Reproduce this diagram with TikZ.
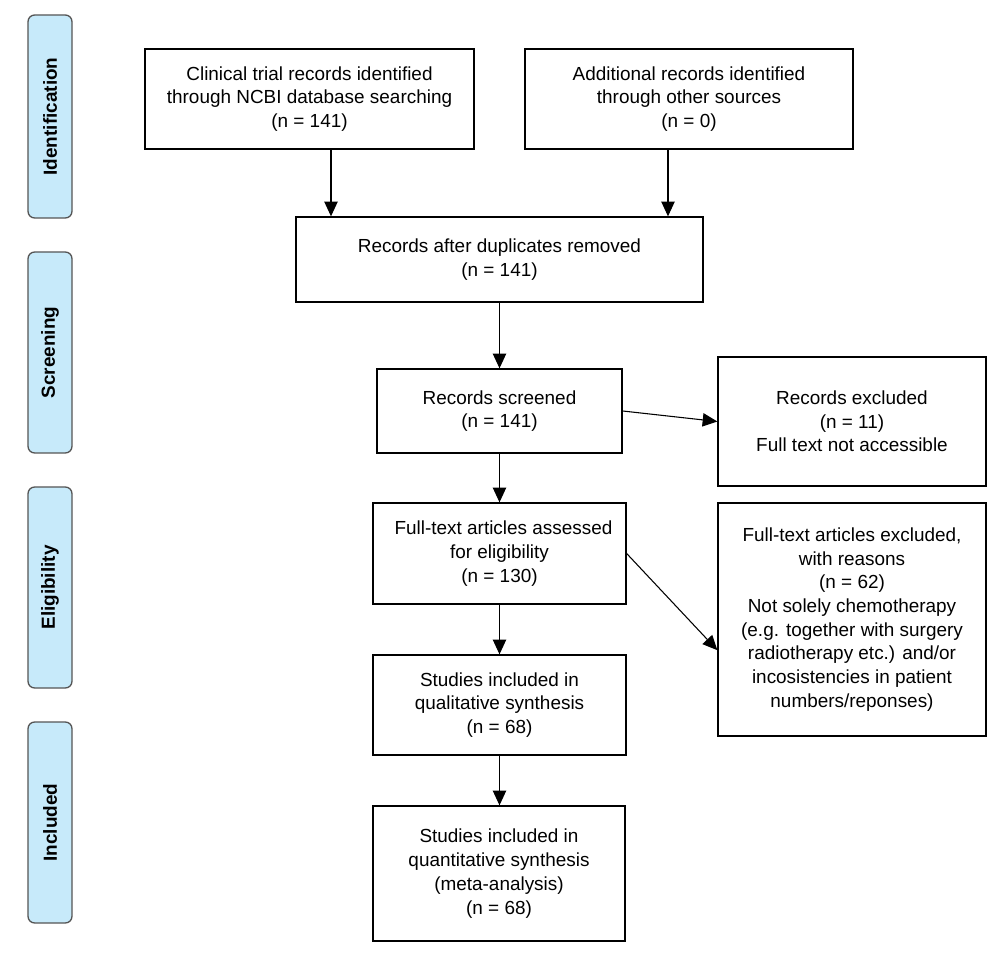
\documentclass[tikz,border=0pt]{standalone}
\usepackage{fontspec}
\setmainfont{Liberation Sans}
\usetikzlibrary{arrows.meta}
\definecolor{sidefill}{RGB}{199,234,250}
\definecolor{sideedge}{RGB}{85,85,85}
\begin{document}
\begin{tikzpicture}[x=0.75pt,y=-0.75pt,
  box/.style={draw=black, line width=1pt, fill=white, align=center, inner sep=2pt,
    font=\fontsize{14.2}{17.8}\selectfont},
  side/.style={draw=sideedge, line width=1pt, fill=sidefill, rounded corners=5pt,
    minimum width=33pt, minimum height=151pt, inner sep=0pt},
  sidetext/.style={rotate=90, font=\fontsize{14.2}{17}\selectfont\bfseries},
  arr/.style={draw=black, line width=0.8pt, -{Triangle[length=11pt,width=10pt]}}]
\useasboundingbox (0,0) rectangle (1000,955);
% phase labels
\node[side, minimum height=152.25pt] (s1) at (50,116.5) {};
\node[sidetext] (s1t) at (s1.center) {Identification};
\node[side, minimum height=150.75pt] (s2) at (50,352.5) {};
\node[sidetext] (s2t) at (s2.center) {Screening};
\node[side, minimum height=150.75pt] (s3) at (50,587.5) {};
\node[sidetext] (s3t) at (s3.center) {Eligibility};
\node[side, minimum height=150.75pt] (s4) at (50,822.5) {};
\node[sidetext] (s4t) at (s4.center) {Included};
% boxes
\node[box, minimum width=246.75pt, minimum height=75pt] (b1) at (309.5,99)
  {Clinical trial records identified\\through NCBI database searching\\(n = 141)};
\node[box, minimum width=246pt, minimum height=75pt] (b2) at (689,99)
  {Additional records identified\\through other sources\\(n = 0)};
\node[box, minimum width=305.25pt, minimum height=63.75pt] (b3) at (499.5,259.5)
  {Records after duplicates removed\\(n = 141)};
\node[box, minimum width=183.75pt, minimum height=63pt] (b4) at (499.5,411)
  {Records screened\\(n = 141)};
\node[box, minimum width=201pt, minimum height=96.75pt] (b5) at (852,421.5)
  {Records excluded\\(n = 11)\\Full text not accessible};
\node[box, minimum width=189.75pt, minimum height=75.75pt] (b6) at (499.5,553.5)
  {\hspace*{6pt}Full-text articles assessed\\for eligibility\\(n = 130)};
\node[box, minimum width=201pt, minimum height=174.75pt] (b7) at (852,619.5)
  {Full-text articles excluded,\\with reasons\\(n = 62)\\Not solely chemotherapy\\(e.g. together with surgery\\radiotherapy etc.) and/or\\incosistencies in patient\\numbers/reponses)};
\node[box, minimum width=189.75pt, minimum height=75pt] (b8) at (499.5,705)
  {Studies included in\\qualitative synthesis\\(n = 68)};
\node[box, minimum width=189pt, minimum height=101.25pt] (b9) at (499,873.5)
  {Studies included in\\quantitative synthesis\\(meta-analysis)\\(n = 68)};
% connectors
\coordinate (c1) at (331,0);
\coordinate (c2) at (668,0);
\draw[arr] (b1.south -| c1) -- (b3.north -| c1);
\draw[arr] (b2.south -| c2) -- (b3.north -| c2);
\draw[arr] (b3.south) -- (b3.south |- b4.north);
\draw[arr] (b4.east) -- (b5.west);
\draw[arr] (b4.south) -- (b4.south |- b6.north);
\draw[arr] (b6.east) -- ([yshift=-23pt]b7.west);
\draw[arr] (b6.south) -- (b6.south |- b8.north);
\draw[arr] (b8.south) -- (b8.south |- b9.north);
\end{tikzpicture}
\end{document}
